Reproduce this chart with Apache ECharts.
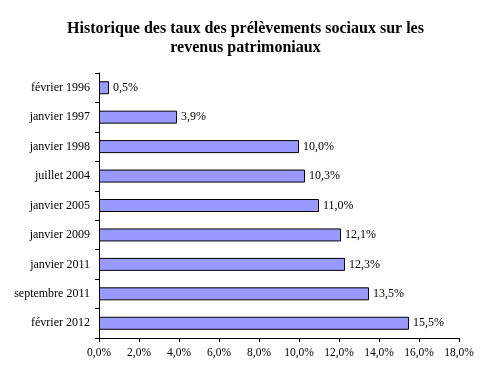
<!DOCTYPE html>
<html><head><meta charset="utf-8">
<script src="https://cdn.jsdelivr.net/npm/echarts@6/dist/echarts.min.js"></script>
<style>html,body{margin:0;padding:0;background:#fff}#c{width:491px;height:370px}</style>
</head><body><div id="c"></div>
<script>
const categories = ["février 1996","janvier 1997","janvier 1998","juillet 2004","janvier 2005","janvier 2009","janvier 2011","septembre 2011","février 2012"];
const values = [0.5, 3.9, 10.0, 10.3, 11.0, 12.1, 12.3, 13.5, 15.5];
const titleText = "Historique des taux des prélèvements sociaux sur les\nrevenus patrimoniaux";
const fmt = v => v.toFixed(1).replace('.', ',') + '%';
const serif = "'Liberation Serif','DejaVu Serif',serif";
const chart = echarts.init(document.getElementById('c'));
chart.setOption({
  animation: false,
  title: {
    text: titleText, left: 'center', top: 14,
    textStyle: {fontFamily: serif, fontWeight: 'bold', fontSize: 16, color: '#000', lineHeight: 19}
  },
  grid: {left: 99, right: 32, top: 73, bottom: 32},
  xAxis: {
    type: 'value', min: 0, max: 18, interval: 2,
    axisLine: {show: true, lineStyle: {color: '#000', width: 1}},
    axisTick: {show: true, length: 4, lineStyle: {color: '#000'}},
    splitLine: {show: false},
    axisLabel: {fontFamily: serif, fontSize: 11.5, color: '#000', margin: 9, formatter: fmt}
  },
  yAxis: {
    type: 'category', data: categories, inverse: true,
    axisLine: {show: true, lineStyle: {color: '#000', width: 1}},
    axisTick: {show: true, length: 4, lineStyle: {color: '#000'}},
    axisLabel: {fontFamily: serif, fontSize: 12, color: '#000', margin: 9}
  },
  series: [{
    type: 'bar', data: values, barWidth: 13,
    itemStyle: {color: '#9999FF', borderColor: '#000', borderWidth: 1},
    label: {show: true, position: 'right', distance: 4, fontFamily: serif, fontSize: 12, color: '#000', formatter: p => fmt(p.value)}
  }]
});
</script></body></html>
